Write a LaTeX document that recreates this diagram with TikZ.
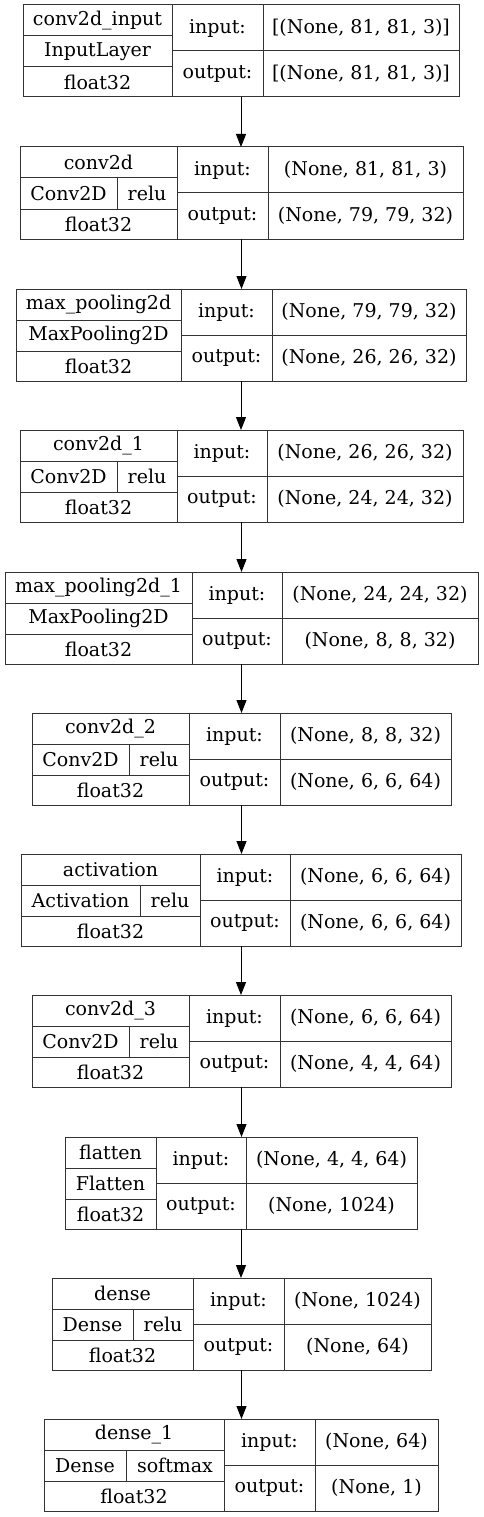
\documentclass[tikz,border=0pt]{standalone}
\usepackage{fontspec}
\setmainfont{DejaVu Serif}
\usetikzlibrary{arrows.meta}

\tikzset{
  cell/.style={draw=black!80, line width=1pt, inner sep=0pt, outer sep=0pt,
    anchor=north west, font=\fontsize{19}{21}\selectfont},
  layer/.style={draw=black!80, line width=1pt, inner sep=0pt, outer sep=0pt},
  flow/.style={-{Triangle[length=13pt,width=10pt]}, line width=1pt}
}

\begin{document}
\begin{tikzpicture}[x=1pt, y=-1pt]
  \useasboundingbox (0,0) rectangle (483,1517);

  % one block per layer: top, left, split, div1, div2, right, texts
  \foreach \i/\t/\xa/\xs/\xb/\xc/\xd/\lname/\ltype/\lact/\lin/\lout in {
    1/5/23/172/172/263/459/conv2d\_input/InputLayer/{}/{[(None, 81, 81, 3)]}/{[(None, 81, 81, 3)]},
    2/147/20/117/177/268/463/conv2d/Conv2D/relu/{(None, 81, 81, 3)}/{(None, 79, 79, 32)},
    3/289/16/181/181/272/466/max\_pooling2d/MaxPooling2D/{}/{(None, 79, 79, 32)}/{(None, 26, 26, 32)},
    4/430/20/117/177/267/463/conv2d\_1/Conv2D/relu/{(None, 26, 26, 32)}/{(None, 24, 24, 32)},
    5/572/5/192/192/282/478/max\_pooling2d\_1/MaxPooling2D/{}/{(None, 24, 24, 32)}/{(None, 8, 8, 32)},
    6/713/32/129/189/280/451/conv2d\_2/Conv2D/relu/{(None, 8, 8, 32)}/{(None, 6, 6, 64)},
    7/854/21/140/200/290/461/activation/Activation/relu/{(None, 6, 6, 64)}/{(None, 6, 6, 64)},
    8/995/32/129/189/280/451/conv2d\_3/Conv2D/relu/{(None, 6, 6, 64)}/{(None, 4, 4, 64)},
    9/1137/65/156/156/246/417/flatten/Flatten/{}/{(None, 4, 4, 64)}/{(None, 1024)},
    10/1278/52/133/193/284/431/dense/Dense/relu/{(None, 1024)}/{(None, 64)},
    11/1419/44/126/224/315/438/dense\_1/Dense/softmax/{(None, 64)}/{(None, 1)}}
  {
    \node[layer, minimum width={\xd-\xa}, minimum height=92]
      (L\i) at ({(\xa+\xd)/2},{\t+46}) {};
    \node[cell, minimum width={\xb-\xa}, minimum height=31] (N\i) at (\xa,\t) {\lname};
    \ifnum\xs<\xb
      \node[cell, minimum width={\xs-\xa}, minimum height=31] (T\i) at (\xa,\t+31) {\ltype};
      \node[cell, minimum width={\xb-\xs}, minimum height=31] (A\i) at (\xs,\t+31) {\lact};
    \else
      \node[cell, minimum width={\xb-\xa}, minimum height=31] (T\i) at (\xa,\t+31) {\ltype};
    \fi
    \node[cell, minimum width={\xb-\xa}, minimum height=30] (F\i) at (\xa,\t+62) {float32};
    \node[cell, minimum width={\xc-\xb}, minimum height=46] (I\i) at (\xb,\t) {input:};
    \node[cell, minimum width={\xc-\xb}, minimum height=46] (O\i) at (\xb,\t+46) {output:};
    \node[cell, minimum width={\xd-\xc}, minimum height=46] (IV\i) at (\xc,\t) {\lin};
    \node[cell, minimum width={\xd-\xc}, minimum height=46] (OV\i) at (\xc,\t+46) {\lout};
  }

  \foreach \a [count=\b from 2] in {1,...,10}
    \draw[flow] (L\a.south) -- (L\a.south |- L\b.north);
\end{tikzpicture}
\end{document}
